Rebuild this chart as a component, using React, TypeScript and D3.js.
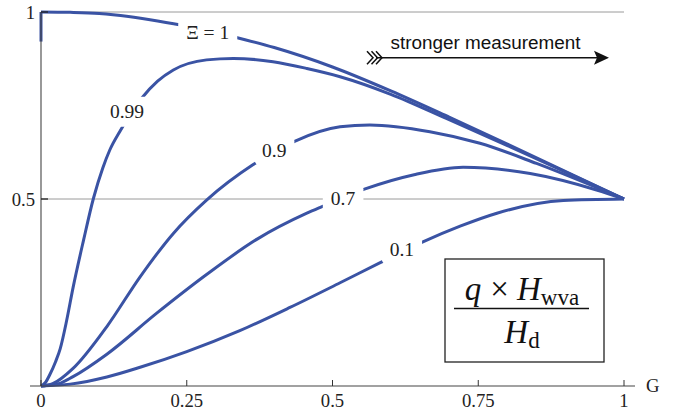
import React, { useEffect, useRef } from "react";
import * as d3 from "d3";

// ---- data ----
const XI_LABELS = ["Ξ = 1", "0.99", "0.9", "0.7", "0.1"];

const G_XI1 = [0, 0.05, 0.1, 0.15, 0.2, 0.25, 0.3, 0.35, 0.4, 0.5, 0.6, 0.7, 0.8, 0.9, 1];
const V_XI1 = [1, 0.999, 0.996, 0.988, 0.976, 0.962, 0.945, 0.926, 0.905, 0.853, 0.789, 0.719, 0.647, 0.573, 0.5];
const XI1_START_VALUE = 0.921;

const G_XI099 = [0, 0.008, 0.015, 0.025, 0.033, 0.044, 0.055, 0.073, 0.09, 0.106, 0.118, 0.135, 0.173, 0.2, 0.227, 0.284, 0.33, 0.398, 0.456, 0.513, 0.6, 0.7, 0.8, 0.9, 1];
const V_XI099 = [0, 0.01, 0.03, 0.065, 0.1, 0.175, 0.263, 0.39, 0.502, 0.583, 0.631, 0.68, 0.77, 0.815, 0.845, 0.872, 0.876, 0.867, 0.849, 0.827, 0.78, 0.712, 0.643, 0.572, 0.5];

const G_XI09 = [0, 0.02, 0.055, 0.113, 0.17, 0.227, 0.284, 0.364, 0.436, 0.513, 0.564, 0.667, 0.753, 0.85, 1];
const V_XI09 = [0, 0.006, 0.047, 0.159, 0.292, 0.408, 0.497, 0.592, 0.655, 0.693, 0.698, 0.68, 0.649, 0.595, 0.5];

const G_XI07 = [0, 0.03, 0.055, 0.113, 0.198, 0.284, 0.37, 0.456, 0.481, 0.556, 0.64, 0.724, 0.839, 0.953, 1];
const V_XI07 = [0, 0.006, 0.025, 0.085, 0.194, 0.298, 0.392, 0.462, 0.479, 0.527, 0.565, 0.585, 0.568, 0.524, 0.5];

const G_XI01 = [0, 0.05, 0.113, 0.17, 0.25, 0.341, 0.427, 0.513, 0.581, 0.656, 0.72, 0.782, 0.896, 1];
const V_XI01 = [0, 0.005, 0.024, 0.05, 0.092, 0.148, 0.21, 0.276, 0.329, 0.386, 0.428, 0.462, 0.496, 0.5];

const LABEL_G = [0.286, 0.1475, 0.4, 0.518, 0.619];
const LABEL_V = [0.944, 0.733, 0.631, 0.502, 0.364];

const X_TICKS = [0, 0.25, 0.5, 0.75, 1];
const X_TICK_LABELS = ["0", "0.25", "0.5", "0.75", "1"];
const Y_TICKS = [0.5, 1];
const Y_TICK_LABELS = ["0.5", "1"];
const GRID_VALUES = [0.5, 1];

const AXIS_LABEL = "G";
const ARROW_TEXT = "stronger measurement";

export default function App() {
  const ref = useRef<SVGSVGElement | null>(null);

  useEffect(() => {
    const svg = d3.select(ref.current);
    svg.selectAll("*").remove();

    const x = d3.scaleLinear().domain([0, 1]).range([41, 624]);
    const y = d3.scaleLinear().domain([0, 1]).range([386, 12]);

    const serif = "'Liberation Serif', 'Times New Roman', serif";
    const sans = "'Liberation Sans', Arial, Helvetica, sans-serif";
    const blue = "#3a53a4";

    // gridlines
    svg
      .append("g")
      .selectAll("line")
      .data(GRID_VALUES)
      .join("line")
      .attr("x1", x(0))
      .attr("x2", x(1))
      .attr("y1", (d) => y(d))
      .attr("y2", (d) => y(d))
      .attr("stroke", "#9a9a9a")
      .attr("stroke-width", 1);

    // curves
    const series = [
      { g: G_XI1, v: V_XI1 },
      { g: G_XI099, v: V_XI099 },
      { g: G_XI09, v: V_XI09 },
      { g: G_XI07, v: V_XI07 },
      { g: G_XI01, v: V_XI01 },
    ];
    const line = d3
      .line<[number, number]>()
      .x((d) => x(d[0]))
      .y((d) => y(d[1]))
      .curve(d3.curveMonotoneX);
    const curvesG = svg.append("g");
    series.forEach((s) => {
      const pts = s.g.map((g, i) => [g, s.v[i]] as [number, number]);
      curvesG
        .append("path")
        .attr("d", line(pts))
        .attr("fill", "none")
        .attr("stroke", blue)
        .attr("stroke-width", 3)
        .attr("stroke-linejoin", "round");
    });
    // vertical start of Ξ = 1
    curvesG
      .append("path")
      .attr(
        "d",
        d3.line<[number, number]>().x((d) => x(d[0])).y((d) => y(d[1]))([
          [0, XI1_START_VALUE],
          [0, V_XI1[0]],
        ])
      )
      .attr("stroke", blue)
      .attr("stroke-width", 3)
      .attr("fill", "none");

    // curve labels with white background
    const labG = svg.append("g");
    XI_LABELS.forEach((t, i) => {
      const cx = x(LABEL_G[i]);
      const cy = y(LABEL_V[i]);
      const bg = labG.append("rect");
      const txt = labG
        .append("text")
        .attr("x", cx)
        .attr("y", cy)
        .attr("text-anchor", "middle")
        .attr("dominant-baseline", "central")
        .attr("font-family", serif)
        .attr("font-size", 19.5)
        .attr("fill", "#222")
        .text(t);
      const bb = (txt.node() as SVGTextElement).getBBox();
      bg.attr("x", bb.x - 8)
        .attr("y", cy - 15)
        .attr("width", bb.width + 16)
        .attr("height", 30)
        .attr("rx", 6)
        .attr("fill", "white");
    });

    // axes
    const axG = svg.append("g");
    axG
      .append("line")
      .attr("x1", 30)
      .attr("x2", 635)
      .attr("y1", y(0))
      .attr("y2", y(0))
      .attr("stroke", "#444")
      .attr("stroke-width", 1.1);
    axG
      .append("line")
      .attr("x1", x(0))
      .attr("x2", x(0))
      .attr("y1", y(0))
      .attr("y2", y(1))
      .attr("stroke", "#444")
      .attr("stroke-width", 1.1);

    // x ticks
    axG
      .selectAll("line.xt")
      .data(X_TICKS)
      .join("line")
      .attr("class", "xt")
      .attr("x1", (d) => x(d))
      .attr("x2", (d) => x(d))
      .attr("y1", y(0))
      .attr("y2", y(0) - 6)
      .attr("stroke", "#333")
      .attr("stroke-width", 1);
    axG
      .selectAll("text.xl")
      .data(X_TICKS)
      .join("text")
      .attr("class", "xl")
      .attr("x", (d) => x(d))
      .attr("y", 406.5)
      .attr("text-anchor", "middle")
      .attr("font-family", serif)
      .attr("font-size", 18.7)
      .attr("fill", "#222")
      .text((d, i) => X_TICK_LABELS[i]);

    // y ticks
    axG
      .selectAll("line.yt")
      .data(Y_TICKS)
      .join("line")
      .attr("class", "yt")
      .attr("x1", x(0))
      .attr("x2", x(0) + 7)
      .attr("y1", (d) => y(d))
      .attr("y2", (d) => y(d))
      .attr("stroke", "#222")
      .attr("stroke-width", 1.3);
    axG
      .selectAll("text.yl")
      .data(Y_TICKS)
      .join("text")
      .attr("class", "yl")
      .attr("x", x(0) - 6)
      .attr("y", (d) => y(d))
      .attr("text-anchor", "end")
      .attr("dominant-baseline", "central")
      .attr("font-family", serif)
      .attr("font-size", 18.7)
      .attr("fill", "#222")
      .text((d, i) => Y_TICK_LABELS[i]);

    // axis label G
    axG
      .append("text")
      .attr("x", 646)
      .attr("y", 391.5)
      .attr("font-family", serif)
      .attr("font-size", 18.7)
      .attr("fill", "#222")
      .text(AXIS_LABEL);

    // arrow annotation
    const arr = svg.append("g");
    arr
      .append("text")
      .attr("x", 390.5)
      .attr("y", 48.5)
      .attr("font-family", sans)
      .attr("font-size", 18.9)
      .attr("fill", "#111")
      .text(ARROW_TEXT);
    const ay = 57.7;
    arr
      .append("line")
      .attr("x1", 376)
      .attr("x2", 598)
      .attr("y1", ay)
      .attr("y2", ay)
      .attr("stroke", "#111")
      .attr("stroke-width", 1.6);
    arr
      .append("path")
      .attr("d", `M609,${ay} L594,${ay - 7} L597,${ay} L594,${ay + 7} Z`)
      .attr("fill", "#111");
    [0, 4.5, 9].forEach((dx) => {
      arr
        .append("path")
        .attr("d", `M${367 + dx},${ay - 6.5} L${373 + dx},${ay} L${367 + dx},${ay + 6.5}`)
        .attr("fill", "none")
        .attr("stroke", "#111")
        .attr("stroke-width", 1.5);
    });

    // formula box
    const box = svg.append("g");
    box
      .append("rect")
      .attr("x", 445)
      .attr("y", 259)
      .attr("width", 159)
      .attr("height", 103)
      .attr("fill", "white")
      .attr("stroke", "#222")
      .attr("stroke-width", 1.3);
    const num = box
      .append("text")
      .attr("x", 522)
      .attr("y", 300)
      .attr("text-anchor", "middle")
      .attr("font-family", serif)
      .attr("font-size", 33)
      .attr("fill", "#111");
    num.append("tspan").attr("font-style", "italic").text("q");
    num.append("tspan").attr("dx", 9).text("×");
    num.append("tspan").attr("font-style", "italic").attr("dx", 8).text("H");
    num.append("tspan").attr("font-size", 23).attr("dy", 5).text("wva");
    box
      .append("line")
      .attr("x1", 454)
      .attr("x2", 589)
      .attr("y1", 308.5)
      .attr("y2", 308.5)
      .attr("stroke", "#111")
      .attr("stroke-width", 1.7);
    const den = box
      .append("text")
      .attr("x", 522)
      .attr("y", 343)
      .attr("text-anchor", "middle")
      .attr("font-family", serif)
      .attr("font-size", 33)
      .attr("fill", "#111");
    den.append("tspan").attr("font-style", "italic").text("H");
    den.append("tspan").attr("font-size", 23).attr("dy", 5).text("d");
  }, []);

  return (
    <svg
      ref={ref}
      width={686}
      height={416}
      style={{ position: "absolute", left: 0, top: 0, background: "white" }}
    />
  );
}
